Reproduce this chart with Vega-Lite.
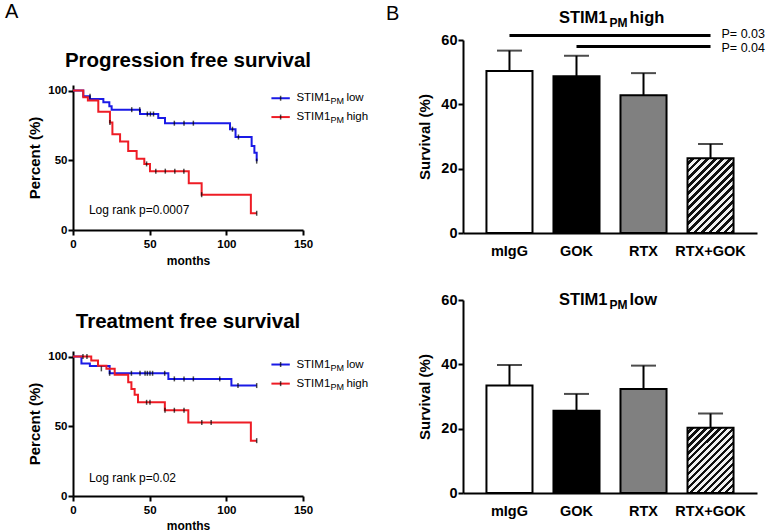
{
"$schema":"https://vega.github.io/schema/vega-lite/v6.json",
"padding":{"left":5,"top":2,"right":2,"bottom":0},
"config":{"font":"Liberation Sans","view":{"stroke":null},"title":{"color":"black"},
"axis":{"domainColor":"black","domainWidth":2,"tickColor":"black","tickWidth":2,"labelColor":"black","titleColor":"black","grid":false,"labelFontWeight":"bold","titleFontWeight":"bold"}},
"datasets":{
"km":[
{"panel":"PFS","series":"low","month":0,"pct":100},{"panel":"PFS","series":"low","month":6.7,"pct":95.9},{"panel":"PFS","series":"low","month":11,"pct":94},{"panel":"PFS","series":"low","month":19.8,"pct":91.6},{"panel":"PFS","series":"low","month":23.7,"pct":88.7},{"panel":"PFS","series":"low","month":25.2,"pct":86.3},{"panel":"PFS","series":"low","month":43.7,"pct":83.2},{"panel":"PFS","series":"low","month":55.6,"pct":80.3},{"panel":"PFS","series":"low","month":60,"pct":76.6},{"panel":"PFS","series":"low","month":102.4,"pct":72.3},{"panel":"PFS","series":"low","month":106,"pct":66.7},{"panel":"PFS","series":"low","month":116.5,"pct":60.2},{"panel":"PFS","series":"low","month":118.3,"pct":55.4},{"panel":"PFS","series":"low","month":119.8,"pct":49.4},
{"panel":"PFS","series":"high","month":0,"pct":100},{"panel":"PFS","series":"high","month":6.7,"pct":95.2},{"panel":"PFS","series":"high","month":9.7,"pct":92.8},{"panel":"PFS","series":"high","month":16.5,"pct":84.8},{"panel":"PFS","series":"high","month":24.1,"pct":77.1},{"panel":"PFS","series":"high","month":25.7,"pct":68.7},{"panel":"PFS","series":"high","month":30.7,"pct":63.5},{"panel":"PFS","series":"high","month":36,"pct":56.6},{"panel":"PFS","series":"high","month":41.5,"pct":51.1},{"panel":"PFS","series":"high","month":46.5,"pct":47.4},{"panel":"PFS","series":"high","month":50.2,"pct":42.2},{"panel":"PFS","series":"high","month":75.5,"pct":33.5},{"panel":"PFS","series":"high","month":83.9,"pct":25.3},{"panel":"PFS","series":"high","month":116,"pct":12},{"panel":"PFS","series":"high","month":119.8,"pct":12},
{"panel":"TFS","series":"low","month":0,"pct":100},{"panel":"TFS","series":"low","month":5.5,"pct":95},{"panel":"TFS","series":"low","month":11,"pct":93.3},{"panel":"TFS","series":"low","month":23.9,"pct":88},{"panel":"TFS","series":"low","month":62.2,"pct":84},{"panel":"TFS","series":"low","month":103.3,"pct":79.2},{"panel":"TFS","series":"low","month":119.8,"pct":79.2},
{"panel":"TFS","series":"high","month":0,"pct":100},{"panel":"TFS","series":"high","month":11.9,"pct":97.1},{"panel":"TFS","series":"high","month":16.3,"pct":93.5},{"panel":"TFS","series":"high","month":21.8,"pct":91.2},{"panel":"TFS","series":"high","month":27.2,"pct":86.9},{"panel":"TFS","series":"high","month":36,"pct":81.6},{"panel":"TFS","series":"high","month":38.1,"pct":76.8},{"panel":"TFS","series":"high","month":40.2,"pct":72.7},{"panel":"TFS","series":"high","month":42.4,"pct":67.2},{"panel":"TFS","series":"high","month":59.9,"pct":61.5},{"panel":"TFS","series":"high","month":75.2,"pct":52.8},{"panel":"TFS","series":"high","month":116,"pct":39.7},{"panel":"TFS","series":"high","month":119.8,"pct":39.7}
],
"cens":[
{"panel":"PFS","month":11.1,"pct":95.9},{"panel":"PFS","month":38.3,"pct":86.3},{"panel":"PFS","month":43.5,"pct":86.3},{"panel":"PFS","month":48.5,"pct":83.2},{"panel":"PFS","month":50.5,"pct":83.2},{"panel":"PFS","month":52.5,"pct":83.2},{"panel":"PFS","month":66.1,"pct":76.6},{"panel":"PFS","month":72.4,"pct":76.6},{"panel":"PFS","month":78.5,"pct":76.6},{"panel":"PFS","month":104,"pct":72.3},{"panel":"PFS","month":107.9,"pct":66.7},{"panel":"PFS","month":119.8,"pct":49.4},
{"panel":"PFS","month":24.1,"pct":77.1},{"panel":"PFS","month":48,"pct":47.4},{"panel":"PFS","month":54,"pct":42.2},{"panel":"PFS","month":60.2,"pct":42.2},{"panel":"PFS","month":66.4,"pct":42.2},{"panel":"PFS","month":72.3,"pct":42.2},{"panel":"PFS","month":83.9,"pct":25.3},{"panel":"PFS","month":119.8,"pct":12},
{"panel":"TFS","month":23.9,"pct":88},{"panel":"TFS","month":38.1,"pct":88},{"panel":"TFS","month":43.7,"pct":88},{"panel":"TFS","month":47,"pct":88},{"panel":"TFS","month":48.5,"pct":88},{"panel":"TFS","month":50.2,"pct":88},{"panel":"TFS","month":51.9,"pct":88},{"panel":"TFS","month":59.8,"pct":88},{"panel":"TFS","month":66.1,"pct":84},{"panel":"TFS","month":72.4,"pct":84},{"panel":"TFS","month":78.5,"pct":84},{"panel":"TFS","month":95.7,"pct":84},{"panel":"TFS","month":107.6,"pct":79.2},{"panel":"TFS","month":119.8,"pct":79.2},
{"panel":"TFS","month":6.5,"pct":100},{"panel":"TFS","month":9.1,"pct":100},{"panel":"TFS","month":18.5,"pct":91.2},{"panel":"TFS","month":48,"pct":67.2},{"panel":"TFS","month":50.2,"pct":67.2},{"panel":"TFS","month":60,"pct":61.5},{"panel":"TFS","month":66.1,"pct":61.5},{"panel":"TFS","month":72.4,"pct":61.5},{"panel":"TFS","month":84,"pct":52.8},{"panel":"TFS","month":90.1,"pct":52.8},{"panel":"TFS","month":119.8,"pct":39.7}
],
"bars":[
{"panel":"high","group":"mIgG","value":50.4,"upper":56.7},{"panel":"high","group":"GOK","value":48.7,"upper":55.1},{"panel":"high","group":"RTX","value":42.8,"upper":49.7},{"panel":"high","group":"RTX+GOK","value":23.2,"upper":27.7},
{"panel":"low","group":"mIgG","value":33.4,"upper":39.8},{"panel":"low","group":"GOK","value":25.6,"upper":30.8},{"panel":"low","group":"RTX","value":32.3,"upper":39.6},{"panel":"low","group":"RTX+GOK","value":20.3,"upper":24.7}
]
},
"hconcat":[
{"title":{"text":"A","anchor":"start","frame":"group","fontSize":20,"fontWeight":"normal","offset":0,"dx":-68,"dy":-18},
"bounds":"flush","spacing":4,
"vconcat":[
{"width":230,"height":41,"data":{"values":[{}]},"mark":{"type":"text","text":"Progression free survival","fontSize":20.5,"fontWeight":"bold","baseline":"middle"},"encoding":{}},
{"bounds":"flush","spacing":121,
"vconcat":[
{"width":230,"height":145,
"layer":[
{"data":{"name":"km"},"transform":[{"filter":"datum.panel==='PFS'"}],"mark":{"type":"line","interpolate":"step-after","strokeWidth":2},
"encoding":{"x":{"field":"month","type":"quantitative","scale":{"domain":[0,150],"nice":false},"axis":{"values":[0,50,100,150],"title":"months","labelFontSize":11.5,"titleFontSize":12,"tickSize":5,"labelPadding":3,"titlePadding":6,"labelFlush":false}},
"y":{"field":"pct","type":"quantitative","scale":{"domain":[0,104],"nice":false},"axis":{"values":[0,50,100],"title":"Percent (%)","labelFontSize":11.5,"titleFontSize":15,"tickSize":5,"labelPadding":1,"titlePadding":5}},
"color":{"field":"series","type":"nominal","scale":{"domain":["low","high"],"range":["#1a1ae6","#ee1c25"]},"legend":null}}},
{"data":{"name":"cens"},"transform":[{"filter":"datum.panel==='PFS'"}],"mark":{"type":"tick","orient":"vertical","size":5,"thickness":1.5,"color":"black"},"encoding":{"x":{"field":"month","type":"quantitative"},"y":{"field":"pct","type":"quantitative"}}},
{"data":{"values":[{}]},"mark":{"type":"rule","strokeWidth":2,"color":"#1a1ae6"},"encoding":{"x":{"datum":129.4},"x2":{"datum":141.4},"y":{"datum":94.5}}},
{"data":{"values":[{}]},"mark":{"type":"tick","orient":"vertical","size":5,"thickness":1.5,"color":"black"},"encoding":{"x":{"datum":135.4},"y":{"datum":94.5}}},
{"data":{"values":[{}]},"mark":{"type":"rule","strokeWidth":2,"color":"#ee1c25"},"encoding":{"x":{"datum":129.4},"x2":{"datum":141.4},"y":{"datum":81}}},
{"data":{"values":[{}]},"mark":{"type":"tick","orient":"vertical","size":5,"thickness":1.5,"color":"black"},"encoding":{"x":{"datum":135.4},"y":{"datum":81}}},
{"data":{"values":[{}]},"mark":{"type":"text","text":"STIM1","align":"left","baseline":"middle","fontSize":11.5},"encoding":{"x":{"datum":145.7},"y":{"datum":94.5}}},
{"data":{"values":[{}]},"mark":{"type":"text","text":"PM","align":"left","baseline":"middle","fontSize":9,"dx":34,"dy":3},"encoding":{"x":{"datum":145.7},"y":{"datum":94.5}}},
{"data":{"values":[{}]},"mark":{"type":"text","text":"low","align":"left","baseline":"middle","fontSize":11.5,"dx":50},"encoding":{"x":{"datum":145.7},"y":{"datum":94.5}}},
{"data":{"values":[{}]},"mark":{"type":"text","text":"STIM1","align":"left","baseline":"middle","fontSize":11.5},"encoding":{"x":{"datum":145.7},"y":{"datum":81}}},
{"data":{"values":[{}]},"mark":{"type":"text","text":"PM","align":"left","baseline":"middle","fontSize":9,"dx":34,"dy":3},"encoding":{"x":{"datum":145.7},"y":{"datum":81}}},
{"data":{"values":[{}]},"mark":{"type":"text","text":"high","align":"left","baseline":"middle","fontSize":11.5,"dx":50},"encoding":{"x":{"datum":145.7},"y":{"datum":81}}},
{"data":{"values":[{}]},"mark":{"type":"text","text":"Log rank p=0.0007","align":"left","baseline":"alphabetic","fontSize":12},"encoding":{"x":{"datum":10.4},"y":{"datum":11.5}}}
]},
{"width":230,"height":145,
"title":{"text":"Treatment free survival","fontSize":20.5,"fontWeight":"bold","offset":18,"anchor":"middle"},
"layer":[
{"data":{"name":"km"},"transform":[{"filter":"datum.panel==='TFS'"}],"mark":{"type":"line","interpolate":"step-after","strokeWidth":2},
"encoding":{"x":{"field":"month","type":"quantitative","scale":{"domain":[0,150],"nice":false},"axis":{"values":[0,50,100,150],"title":"months","labelFontSize":11.5,"titleFontSize":12,"tickSize":5,"labelPadding":3,"titlePadding":5,"labelFlush":false}},
"y":{"field":"pct","type":"quantitative","scale":{"domain":[0,104],"nice":false},"axis":{"values":[0,50,100],"title":"Percent (%)","labelFontSize":11.5,"titleFontSize":15,"tickSize":5,"labelPadding":1,"titlePadding":5}},
"color":{"field":"series","type":"nominal","scale":{"domain":["low","high"],"range":["#1a1ae6","#ee1c25"]},"legend":null}}},
{"data":{"name":"cens"},"transform":[{"filter":"datum.panel==='TFS'"}],"mark":{"type":"tick","orient":"vertical","size":5,"thickness":1.5,"color":"black"},"encoding":{"x":{"field":"month","type":"quantitative"},"y":{"field":"pct","type":"quantitative"}}},
{"data":{"values":[{}]},"mark":{"type":"rule","strokeWidth":2,"color":"#1a1ae6"},"encoding":{"x":{"datum":129.4},"x2":{"datum":141.4},"y":{"datum":94.3}}},
{"data":{"values":[{}]},"mark":{"type":"tick","orient":"vertical","size":5,"thickness":1.5,"color":"black"},"encoding":{"x":{"datum":135.4},"y":{"datum":94.3}}},
{"data":{"values":[{}]},"mark":{"type":"rule","strokeWidth":2,"color":"#ee1c25"},"encoding":{"x":{"datum":129.4},"x2":{"datum":141.4},"y":{"datum":80.6}}},
{"data":{"values":[{}]},"mark":{"type":"tick","orient":"vertical","size":5,"thickness":1.5,"color":"black"},"encoding":{"x":{"datum":135.4},"y":{"datum":80.6}}},
{"data":{"values":[{}]},"mark":{"type":"text","text":"STIM1","align":"left","baseline":"middle","fontSize":11.5},"encoding":{"x":{"datum":145.7},"y":{"datum":94.3}}},
{"data":{"values":[{}]},"mark":{"type":"text","text":"PM","align":"left","baseline":"middle","fontSize":9,"dx":34,"dy":3},"encoding":{"x":{"datum":145.7},"y":{"datum":94.3}}},
{"data":{"values":[{}]},"mark":{"type":"text","text":"low","align":"left","baseline":"middle","fontSize":11.5,"dx":50},"encoding":{"x":{"datum":145.7},"y":{"datum":94.3}}},
{"data":{"values":[{}]},"mark":{"type":"text","text":"STIM1","align":"left","baseline":"middle","fontSize":11.5},"encoding":{"x":{"datum":145.7},"y":{"datum":80.6}}},
{"data":{"values":[{}]},"mark":{"type":"text","text":"PM","align":"left","baseline":"middle","fontSize":9,"dx":34,"dy":3},"encoding":{"x":{"datum":145.7},"y":{"datum":80.6}}},
{"data":{"values":[{}]},"mark":{"type":"text","text":"high","align":"left","baseline":"middle","fontSize":11.5,"dx":50},"encoding":{"x":{"datum":145.7},"y":{"datum":80.6}}},
{"data":{"values":[{}]},"mark":{"type":"text","text":"Log rank p=0.02","align":"left","baseline":"alphabetic","fontSize":12},"encoding":{"x":{"datum":10.4},"y":{"datum":9.8}}}
]}
]}
]},
{"title":{"text":"B","anchor":"start","frame":"group","fontSize":20,"fontWeight":"normal","offset":0,"dx":-77,"dy":14},
"bounds":"flush","spacing":67,
"vconcat":[
{"width":294,"height":193,
"layer":[
{"data":{"name":"bars"},"transform":[{"filter":"datum.panel==='high' && datum.group!=='RTX+GOK'"}],"mark":{"type":"bar","stroke":"black","strokeWidth":2},
"encoding":{"x":{"field":"group","type":"nominal","sort":["mIgG","GOK","RTX","RTX+GOK"],"scale":{"domain":["mIgG","GOK","RTX","RTX+GOK"],"paddingInner":0.313,"paddingOuter":0.35},"axis":{"title":null,"ticks":false,"labelAngle":0,"labelFontSize":14.5,"labelPadding":11}},
"y":{"field":"value","type":"quantitative","scale":{"domain":[0,60],"nice":false},"axis":{"values":[0,20,40,60],"title":"Survival (%)","labelFontSize":14.5,"titleFontSize":15,"tickSize":5,"labelPadding":1,"titlePadding":8}},
"fill":{"field":"group","type":"nominal","scale":{"domain":["mIgG","GOK","RTX"],"range":["#ffffff","#000000","#808080"]},"legend":null}}},
{"data":{"name":"bars"},"transform":[{"filter":"datum.panel==='high' && datum.group==='RTX+GOK'"}],
"mark":{"type":"bar","stroke":"black","strokeWidth":2,"fill":{"gradient":"linear","x1":0,"y1":0,"x2":0.722,"y2":1.171,"stops":[
{"offset":0,"color":"#f2f2f2"},{"offset":0.03125,"color":"#f2f2f2"},{"offset":0.03125,"color":"#111111"},{"offset":0.0625,"color":"#111111"},
{"offset":0.0625,"color":"#f2f2f2"},{"offset":0.09375,"color":"#f2f2f2"},{"offset":0.09375,"color":"#111111"},{"offset":0.125,"color":"#111111"},
{"offset":0.125,"color":"#f2f2f2"},{"offset":0.15625,"color":"#f2f2f2"},{"offset":0.15625,"color":"#111111"},{"offset":0.1875,"color":"#111111"},
{"offset":0.1875,"color":"#f2f2f2"},{"offset":0.21875,"color":"#f2f2f2"},{"offset":0.21875,"color":"#111111"},{"offset":0.25,"color":"#111111"},
{"offset":0.25,"color":"#f2f2f2"},{"offset":0.28125,"color":"#f2f2f2"},{"offset":0.28125,"color":"#111111"},{"offset":0.3125,"color":"#111111"},
{"offset":0.3125,"color":"#f2f2f2"},{"offset":0.34375,"color":"#f2f2f2"},{"offset":0.34375,"color":"#111111"},{"offset":0.375,"color":"#111111"},
{"offset":0.375,"color":"#f2f2f2"},{"offset":0.40625,"color":"#f2f2f2"},{"offset":0.40625,"color":"#111111"},{"offset":0.4375,"color":"#111111"},
{"offset":0.4375,"color":"#f2f2f2"},{"offset":0.46875,"color":"#f2f2f2"},{"offset":0.46875,"color":"#111111"},{"offset":0.5,"color":"#111111"},
{"offset":0.5,"color":"#f2f2f2"},{"offset":0.53125,"color":"#f2f2f2"},{"offset":0.53125,"color":"#111111"},{"offset":0.5625,"color":"#111111"},
{"offset":0.5625,"color":"#f2f2f2"},{"offset":0.59375,"color":"#f2f2f2"},{"offset":0.59375,"color":"#111111"},{"offset":0.625,"color":"#111111"},
{"offset":0.625,"color":"#f2f2f2"},{"offset":0.65625,"color":"#f2f2f2"},{"offset":0.65625,"color":"#111111"},{"offset":0.6875,"color":"#111111"},
{"offset":0.6875,"color":"#f2f2f2"},{"offset":0.71875,"color":"#f2f2f2"},{"offset":0.71875,"color":"#111111"},{"offset":0.75,"color":"#111111"},
{"offset":0.75,"color":"#f2f2f2"},{"offset":0.78125,"color":"#f2f2f2"},{"offset":0.78125,"color":"#111111"},{"offset":0.8125,"color":"#111111"},
{"offset":0.8125,"color":"#f2f2f2"},{"offset":0.84375,"color":"#f2f2f2"},{"offset":0.84375,"color":"#111111"},{"offset":0.875,"color":"#111111"},
{"offset":0.875,"color":"#f2f2f2"},{"offset":0.90625,"color":"#f2f2f2"},{"offset":0.90625,"color":"#111111"},{"offset":0.9375,"color":"#111111"},
{"offset":0.9375,"color":"#f2f2f2"},{"offset":0.96875,"color":"#f2f2f2"},{"offset":0.96875,"color":"#111111"},{"offset":1,"color":"#111111"}]}},
"encoding":{"x":{"field":"group","type":"nominal"},"y":{"field":"value","type":"quantitative"}}},
{"data":{"name":"bars"},"transform":[{"filter":"datum.panel==='high'"}],"mark":{"type":"rule","strokeWidth":2,"color":"black"},"encoding":{"x":{"field":"group","type":"nominal"},"y":{"field":"value","type":"quantitative"},"y2":{"field":"upper"}}},
{"data":{"name":"bars"},"transform":[{"filter":"datum.panel==='high'"}],"mark":{"type":"tick","orient":"horizontal","size":25,"thickness":2,"color":"black"},"encoding":{"x":{"field":"group","type":"nominal"},"y":{"field":"upper","type":"quantitative"}}},
{"data":{"values":[{}]},"mark":{"type":"rule","strokeWidth":3,"color":"black"},"encoding":{"x":{"datum":"mIgG"},"x2":{"datum":"RTX+GOK"},"y":{"datum":61.4}}},
{"data":{"values":[{}]},"mark":{"type":"rule","strokeWidth":3,"color":"black"},"encoding":{"x":{"datum":"GOK"},"x2":{"datum":"RTX+GOK"},"y":{"datum":58}}},
{"data":{"values":[{}]},"mark":{"type":"text","text":"P= 0.03","align":"left","baseline":"middle","dx":11,"dy":-1.5,"fontSize":12.5},"encoding":{"x":{"datum":"RTX+GOK"},"y":{"datum":61.4}}},
{"data":{"values":[{}]},"mark":{"type":"text","text":"P= 0.04","align":"left","baseline":"middle","dx":11,"dy":1.5,"fontSize":12.5},"encoding":{"x":{"datum":"RTX+GOK"},"y":{"datum":58}}},
{"data":{"values":[{}]},"mark":{"type":"text","text":"STIM1","align":"right","baseline":"alphabetic","dx":31,"fontSize":16.5,"fontWeight":"bold"},"encoding":{"x":{"datum":"GOK"},"y":{"datum":65.4}}},
{"data":{"values":[{}]},"mark":{"type":"text","text":"PM","align":"left","baseline":"alphabetic","dx":33,"dy":4,"fontSize":12,"fontWeight":"bold"},"encoding":{"x":{"datum":"GOK"},"y":{"datum":65.4}}},
{"data":{"values":[{}]},"mark":{"type":"text","text":"high","align":"left","baseline":"alphabetic","dx":53,"fontSize":16.5,"fontWeight":"bold"},"encoding":{"x":{"datum":"GOK"},"y":{"datum":65.4}}}
]},
{"width":294,"height":193,
"layer":[
{"data":{"name":"bars"},"transform":[{"filter":"datum.panel==='low' && datum.group!=='RTX+GOK'"}],"mark":{"type":"bar","stroke":"black","strokeWidth":2},
"encoding":{"x":{"field":"group","type":"nominal","sort":["mIgG","GOK","RTX","RTX+GOK"],"scale":{"domain":["mIgG","GOK","RTX","RTX+GOK"],"paddingInner":0.313,"paddingOuter":0.35},"axis":{"title":null,"ticks":false,"labelAngle":0,"labelFontSize":14.5,"labelPadding":11}},
"y":{"field":"value","type":"quantitative","scale":{"domain":[0,60],"nice":false},"axis":{"values":[0,20,40,60],"title":"Survival (%)","labelFontSize":14.5,"titleFontSize":15,"tickSize":5,"labelPadding":1,"titlePadding":8}},
"fill":{"field":"group","type":"nominal","scale":{"domain":["mIgG","GOK","RTX"],"range":["#ffffff","#000000","#808080"]},"legend":null}}},
{"data":{"name":"bars"},"transform":[{"filter":"datum.panel==='low' && datum.group==='RTX+GOK'"}],
"mark":{"type":"bar","stroke":"black","strokeWidth":2,"fill":{"gradient":"linear","x1":0,"y1":0,"x2":0.8025,"y2":1.139,"stops":[
{"offset":0,"color":"#f2f2f2"},{"offset":0.03125,"color":"#f2f2f2"},{"offset":0.03125,"color":"#111111"},{"offset":0.0625,"color":"#111111"},
{"offset":0.0625,"color":"#f2f2f2"},{"offset":0.09375,"color":"#f2f2f2"},{"offset":0.09375,"color":"#111111"},{"offset":0.125,"color":"#111111"},
{"offset":0.125,"color":"#f2f2f2"},{"offset":0.15625,"color":"#f2f2f2"},{"offset":0.15625,"color":"#111111"},{"offset":0.1875,"color":"#111111"},
{"offset":0.1875,"color":"#f2f2f2"},{"offset":0.21875,"color":"#f2f2f2"},{"offset":0.21875,"color":"#111111"},{"offset":0.25,"color":"#111111"},
{"offset":0.25,"color":"#f2f2f2"},{"offset":0.28125,"color":"#f2f2f2"},{"offset":0.28125,"color":"#111111"},{"offset":0.3125,"color":"#111111"},
{"offset":0.3125,"color":"#f2f2f2"},{"offset":0.34375,"color":"#f2f2f2"},{"offset":0.34375,"color":"#111111"},{"offset":0.375,"color":"#111111"},
{"offset":0.375,"color":"#f2f2f2"},{"offset":0.40625,"color":"#f2f2f2"},{"offset":0.40625,"color":"#111111"},{"offset":0.4375,"color":"#111111"},
{"offset":0.4375,"color":"#f2f2f2"},{"offset":0.46875,"color":"#f2f2f2"},{"offset":0.46875,"color":"#111111"},{"offset":0.5,"color":"#111111"},
{"offset":0.5,"color":"#f2f2f2"},{"offset":0.53125,"color":"#f2f2f2"},{"offset":0.53125,"color":"#111111"},{"offset":0.5625,"color":"#111111"},
{"offset":0.5625,"color":"#f2f2f2"},{"offset":0.59375,"color":"#f2f2f2"},{"offset":0.59375,"color":"#111111"},{"offset":0.625,"color":"#111111"},
{"offset":0.625,"color":"#f2f2f2"},{"offset":0.65625,"color":"#f2f2f2"},{"offset":0.65625,"color":"#111111"},{"offset":0.6875,"color":"#111111"},
{"offset":0.6875,"color":"#f2f2f2"},{"offset":0.71875,"color":"#f2f2f2"},{"offset":0.71875,"color":"#111111"},{"offset":0.75,"color":"#111111"},
{"offset":0.75,"color":"#f2f2f2"},{"offset":0.78125,"color":"#f2f2f2"},{"offset":0.78125,"color":"#111111"},{"offset":0.8125,"color":"#111111"},
{"offset":0.8125,"color":"#f2f2f2"},{"offset":0.84375,"color":"#f2f2f2"},{"offset":0.84375,"color":"#111111"},{"offset":0.875,"color":"#111111"},
{"offset":0.875,"color":"#f2f2f2"},{"offset":0.90625,"color":"#f2f2f2"},{"offset":0.90625,"color":"#111111"},{"offset":0.9375,"color":"#111111"},
{"offset":0.9375,"color":"#f2f2f2"},{"offset":0.96875,"color":"#f2f2f2"},{"offset":0.96875,"color":"#111111"},{"offset":1,"color":"#111111"}]}},
"encoding":{"x":{"field":"group","type":"nominal"},"y":{"field":"value","type":"quantitative"}}},
{"data":{"name":"bars"},"transform":[{"filter":"datum.panel==='low'"}],"mark":{"type":"rule","strokeWidth":2,"color":"black"},"encoding":{"x":{"field":"group","type":"nominal"},"y":{"field":"value","type":"quantitative"},"y2":{"field":"upper"}}},
{"data":{"name":"bars"},"transform":[{"filter":"datum.panel==='low'"}],"mark":{"type":"tick","orient":"horizontal","size":25,"thickness":2,"color":"black"},"encoding":{"x":{"field":"group","type":"nominal"},"y":{"field":"upper","type":"quantitative"}}},
{"data":{"values":[{}]},"mark":{"type":"text","text":"STIM1","align":"right","baseline":"alphabetic","dx":31,"fontSize":16.5,"fontWeight":"bold"},"encoding":{"x":{"datum":"GOK"},"y":{"datum":58.5}}},
{"data":{"values":[{}]},"mark":{"type":"text","text":"PM","align":"left","baseline":"alphabetic","dx":33,"dy":4,"fontSize":12,"fontWeight":"bold"},"encoding":{"x":{"datum":"GOK"},"y":{"datum":58.5}}},
{"data":{"values":[{}]},"mark":{"type":"text","text":"low","align":"left","baseline":"alphabetic","dx":53,"fontSize":16.5,"fontWeight":"bold"},"encoding":{"x":{"datum":"GOK"},"y":{"datum":58.5}}}
]}
]}
],
"spacing":390,"bounds":"flush"
}
